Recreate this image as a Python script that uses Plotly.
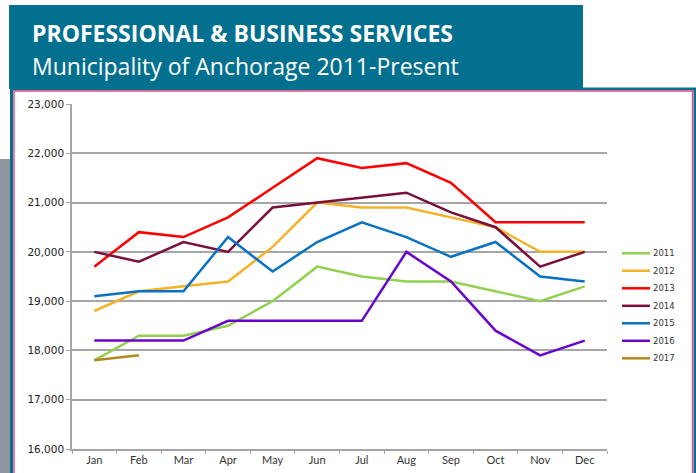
import plotly.graph_objects as go

months = ["Jan", "Feb", "Mar", "Apr", "May", "Jun", "Jul", "Aug", "Sep", "Oct", "Nov", "Dec"]

y2011 = [17800, 18300, 18300, 18500, 19000, 19700, 19500, 19400, 19400, 19200, 19000, 19300]
y2012 = [18800, 19200, 19300, 19400, 20100, 21000, 20900, 20900, 20700, 20500, 20000, 20000]
y2013 = [19700, 20400, 20300, 20700, 21300, 21900, 21700, 21800, 21400, 20600, 20600, 20600]
y2014 = [20000, 19800, 20200, 20000, 20900, 21000, 21100, 21200, 20800, 20500, 19700, 20000]
y2015 = [19100, 19200, 19200, 20300, 19600, 20200, 20600, 20300, 19900, 20200, 19500, 19400]
y2016 = [18200, 18200, 18200, 18600, 18600, 18600, 18600, 20000, 19400, 18400, 17900, 18200]
y2017 = [17800, 17900]

series_names = ["2011", "2012", "2013", "2014", "2015", "2016", "2017"]
series_values = [y2011, y2012, y2013, y2014, y2015, y2016, y2017]
series_colors = ["#92D050", "#F2B32A", "#FF0000", "#7A0F3C", "#0A72C2", "#6A06CC", "#B08A1F"]

y_ticks = [16000, 17000, 18000, 19000, 20000, 21000, 22000, 23000]

title_text = "PROFESSIONAL & BUSINESS SERVICES"
subtitle_text = "Municipality of Anchorage 2011-Present"

W, H = 696, 473
L, R, T, B = 72, 607, 104, 449


def px(x):
    return (x - L) / (R - L)


def py(y):
    return (B - y) / (B - T)


fig = go.Figure()
for name, vals, col in zip(series_names, series_values, series_colors):
    fig.add_trace(go.Scatter(
        x=months[:len(vals)], y=vals, mode="lines", name=name,
        line=dict(color=col, width=2.5), showlegend=False,
    ))

TEAL = "#02708E"
PINK = "#EC4F86"
shapes = [
    # gray side block
    dict(type="rect", xref="paper", yref="paper", x0=px(-5), x1=px(10), y0=py(159), y1=py(480),
         fillcolor="#8E979D", line=dict(width=0), layer="below"),
    # teal banner
    dict(type="rect", xref="paper", yref="paper", x0=px(9), x1=px(583), y0=py(5), y1=py(89),
         fillcolor=TEAL, line=dict(width=0), layer="below"),
    # teal outer frame
    dict(type="rect", xref="paper", yref="paper", x0=px(11.5), x1=px(695), y0=py(89), y1=py(490),
         fillcolor="rgba(0,0,0,0)", line=dict(color=TEAL, width=3), layer="below"),
    # pink inner frame
    dict(type="rect", xref="paper", yref="paper", x0=px(14), x1=px(692.5), y0=py(91), y1=py(490),
         fillcolor="rgba(0,0,0,0)", line=dict(color=PINK, width=1.5), layer="below"),
]

annotations = [
    dict(text="<b>" + title_text + "</b>", xref="paper", yref="paper", x=px(30), y=py(33),
         xanchor="left", yanchor="middle", showarrow=False,
         font=dict(family="Open Sans", size=23, color="white")),
    dict(text=subtitle_text, xref="paper", yref="paper", x=px(30), y=py(66),
         xanchor="left", yanchor="middle", showarrow=False,
         font=dict(family="Open Sans", size=23, color="white")),
]

# manual legend
leg_y0, leg_dy = 253.3, 17.5
for i, (name, col) in enumerate(zip(series_names, series_colors)):
    yy = leg_y0 + i * leg_dy
    shapes.append(dict(type="line", xref="paper", yref="paper", x0=px(622), x1=px(650),
                       y0=py(yy), y1=py(yy), line=dict(color=col, width=2.5)))
    annotations.append(dict(text=name, xref="paper", yref="paper", x=px(651), y=py(yy),
                            xanchor="left", yanchor="middle", showarrow=False,
                            font=dict(family="DejaVu Sans", size=8.5, color="#333333")))

fig.update_layout(
    width=W, height=H,
    margin=dict(l=L, r=W - R, t=T, b=H - B, pad=0),
    paper_bgcolor="white", plot_bgcolor="rgba(0,0,0,0)",
    showlegend=False,
    shapes=shapes, annotations=annotations,
    xaxis=dict(
        type="category", categoryorder="array", categoryarray=months,
        range=[-0.5, 11.5], showgrid=False, automargin=False,
        showline=True, linecolor="#A6A6A6", linewidth=1.5,
        ticks="outside", tickson="boundaries", ticklen=3, tickcolor="#A6A6A6",
        tickfont=dict(family="Lato", size=11, color="#333333"),
    ),
    yaxis=dict(
        range=[16000, 23000], tickvals=y_ticks, tickformat=",", automargin=False,
        showgrid=True, gridcolor="#A6A6A6", gridwidth=1.5,
        showline=True, linecolor="#A6A6A6", linewidth=1.5,
        ticks="outside", ticklen=4, tickcolor="#A6A6A6",
        tickfont=dict(family="DejaVu Sans", size=10.5, color="#222222"),
        zeroline=False,
    ),
)

fig.write_html(
    "out.html",
    config={"displayModeBar": False},
    post_script="document.body.style.margin='0';document.body.style.overflow='hidden';",
)
